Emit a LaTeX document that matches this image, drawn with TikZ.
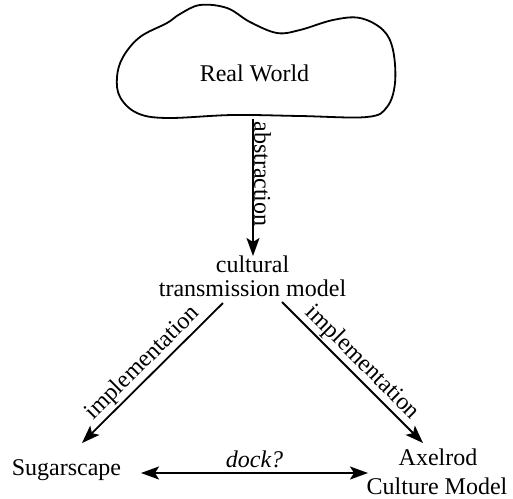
\documentclass[tikz,border=0pt]{standalone}
\usepackage{fontspec}
\setmainfont{Liberation Serif}
\usetikzlibrary{arrows.meta}
\begin{document}
\begin{tikzpicture}[x=1pt,y=-1pt,
  tip/.style={},
  txt/.style={font=\fontsize{24}{24}\selectfont, inner sep=0pt},
  arr/.style={line width=1.8pt, -{Stealth[length=18pt,width=13pt,inset=4pt]}},
  darr/.style={line width=1.8pt, {Stealth[length=18pt,width=13pt,inset=4pt]}-{Stealth[length=18pt,width=13pt,inset=4pt]}},
  lbl/.style={font=\fontsize{24}{24}\selectfont, inner sep=1pt}]
\useasboundingbox (0,0) rectangle (513,498);
% cloud
\draw[line width=1.8pt] plot[smooth cycle, tension=0.6] coordinates {
 (200,5) (227,8) (250,22) (277,33) (300,30) (333,20) (360,18) (383,30)
 (393,50) (395,83) (387,107) (367,117) (300,116) (233,115) (167,118)
 (137,113) (120,97) (117,77) (123,57) (140,37) (167,23) (180,14)};
\node[txt, anchor=base] (rw) at (254.5,81) {Real World};
\node[txt, anchor=base] (ctm1) at (252.5,272) {cultural};
\node[txt, anchor=base] (ctm) at (252.5,296) {transmission model};
\node[txt, anchor=base] (sug) at (66.5,475) {Sugarscape};
\node[txt, anchor=base] (ax1) at (438,465) {Axelrod};
\node[txt, anchor=base] (ax) at (437,494) {Culture Model};
% connector ends
\coordinate (a0) at (253,119);
\coordinate (a1) at (253,256);
\coordinate (l0) at (223,303);
\coordinate (l1) at (82,443);
\coordinate (r0) at (282,302);
\coordinate (r1) at (423,443);
\coordinate (d0) at (141,473);
\coordinate (d1) at (368,473);
\draw[arr] (a0) -- (a1);
\node[lbl, rotate=-90, anchor=south] (abs) at (253,174) {abstraction};
\draw[arr] (l0) -- (l1) node[lbl, midway, sloped, above=1pt] (iml) {implementation};
\draw[arr] (r0) -- (r1) node[lbl, midway, sloped, above=1pt] (imr) {implementation};
\draw[darr] (d0) -- (d1) node[lbl, midway, above=3pt, font=\fontsize{24}{24}\selectfont\itshape] (dock) {dock?};
\end{tikzpicture}
\end{document}
